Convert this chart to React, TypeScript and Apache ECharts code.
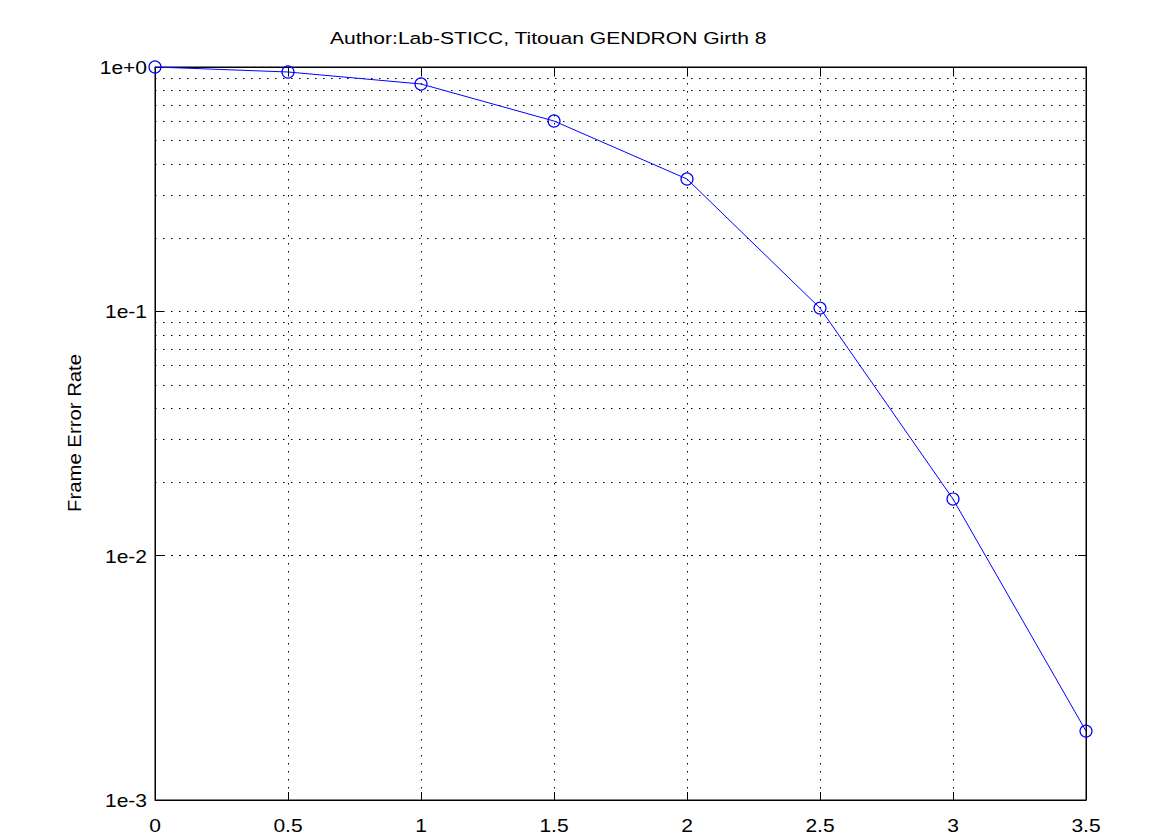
import React, { useEffect, useRef } from "react";
import * as echarts from "echarts";

const snr = [0, 0.5, 1, 1.5, 2, 2.5, 3, 3.5];
const fer = [1.0, 0.954, 0.852, 0.601, 0.348, 0.1031, 0.01705, 0.001914];
const xTicks = [0, 0.5, 1, 1.5, 2, 2.5, 3, 3.5];
const yTicks = [1, 0.1, 0.01, 0.001];
const titleText = "Author:Lab-STICC, Titouan GENDRON Girth 8";
const yName = "Frame Error Rate";
const decades = [-3, -2, -1];
const minorMultipliers = [2, 3, 4, 5, 6, 7, 8, 9];

export default function App() {
  const ref = useRef<HTMLDivElement>(null);
  useEffect(() => {
    document.body.style.margin = "0";
    const chart = echarts.init(ref.current!, null, { renderer: "svg" });
    const font = "Liberation Sans, Arial, sans-serif";
    const dotted: any = { color: "#000", width: 1, type: [1.5, 6.5] };
    const minorLines: any[] = [];
    decades.forEach((d) =>
      minorMultipliers.forEach((m) => minorLines.push({ yAxis: m * Math.pow(10, d) }))
    );
    const fmtY = (v: number) => {
      const e = Math.round(Math.log10(v));
      return "1e" + (e >= 0 ? "+" : "") + e;
    };
    chart.setOption({
      animation: false,
      backgroundColor: "#fff",
      grid: { left: 155, right: 89, top: 67, bottom: 35, show: true, borderColor: "#000", borderWidth: 1 },
      xAxis: [
        {
          type: "value",
          min: 0,
          max: 3.5,
          interval: 0.5,
          axisLine: { show: true, onZero: false, lineStyle: { color: "#000" } },
          axisTick: { show: true, inside: true, length: 8, lineStyle: { color: "#000" } },
          axisLabel: { show: false },
          splitLine: { show: true, lineStyle: dotted },
        },
        {
          type: "value",
          position: "top",
          min: 0,
          max: 3.5,
          interval: 0.5,
          axisLine: { show: true, onZero: false, lineStyle: { color: "#000" } },
          axisTick: { show: true, inside: true, length: 8, lineStyle: { color: "#000" } },
          axisLabel: { show: false },
          splitLine: { show: false },
        },
      ],
      yAxis: [
        {
          type: "log",
          logBase: 10,
          min: 0.001,
          max: 1,
          axisLine: { show: true, onZero: false, lineStyle: { color: "#000" } },
          axisTick: { show: true, inside: true, length: 8, lineStyle: { color: "#000" } },
          axisLabel: { show: false },
          splitLine: { show: true, lineStyle: dotted },
        },
        {
          type: "log",
          logBase: 10,
          min: 0.001,
          max: 1,
          position: "right",
          axisLine: { show: true, onZero: false, lineStyle: { color: "#000" } },
          axisTick: { show: true, inside: true, length: 8, lineStyle: { color: "#000" } },
          axisLabel: { show: false },
          splitLine: { show: false },
        },
      ],
      series: [
        {
          type: "line",
          data: snr.map((x, i) => [x, fer[i]]),
          symbol: "circle",
          symbolSize: 12,
          showSymbol: true,
          lineStyle: { color: "#0000ff", width: 1 },
          itemStyle: { color: "rgba(0,0,0,0)", borderColor: "#0000ff", borderWidth: 1.2 },
          z: 5,
          markLine: {
            silent: true,
            symbol: ["none", "none"],
            label: { show: false },
            lineStyle: dotted,
            emphasis: { disabled: true },
            data: minorLines,
            z: 1,
          },
        },
      ],
    });

    const graphics: any[] = [];
    graphics.push({
      type: "text",
      x: 330,
      y: 38,
      scaleX: 1.24,
      style: { text: titleText, fontFamily: font, fontSize: 17, fill: "#000", align: "left", verticalAlign: "middle" },
    });
    graphics.push({
      type: "text",
      x: 75,
      y: 433,
      rotation: Math.PI / 2,
      scaleX: 1.13,
      style: { text: yName, fontFamily: font, fontSize: 18, fill: "#000", align: "center", verticalAlign: "middle" },
    });
    xTicks.forEach((v) => {
      const p = chart.convertToPixel({ xAxisIndex: 0, yAxisIndex: 0 }, [v, 0.001]) as number[];
      graphics.push({
        type: "text",
        x: p[0],
        y: p[1] + 26,
        scaleX: 1.2,
        style: { text: String(v), fontFamily: font, fontSize: 17.5, fill: "#000", align: "center", verticalAlign: "middle" },
      });
    });
    yTicks.forEach((v) => {
      const p = chart.convertToPixel({ xAxisIndex: 0, yAxisIndex: 0 }, [0, v]) as number[];
      graphics.push({
        type: "text",
        x: p[0] - 8,
        y: p[1] + 1,
        scaleX: 1.2,
        style: { text: fmtY(v), fontFamily: font, fontSize: 17.5, fill: "#000", align: "right", verticalAlign: "middle" },
      });
    });
    chart.setOption({ graphic: graphics });
    return () => chart.dispose();
  }, []);
  return <div ref={ref} style={{ width: 1175, height: 835, position: "absolute", left: 0, top: 0 }} />;
}
